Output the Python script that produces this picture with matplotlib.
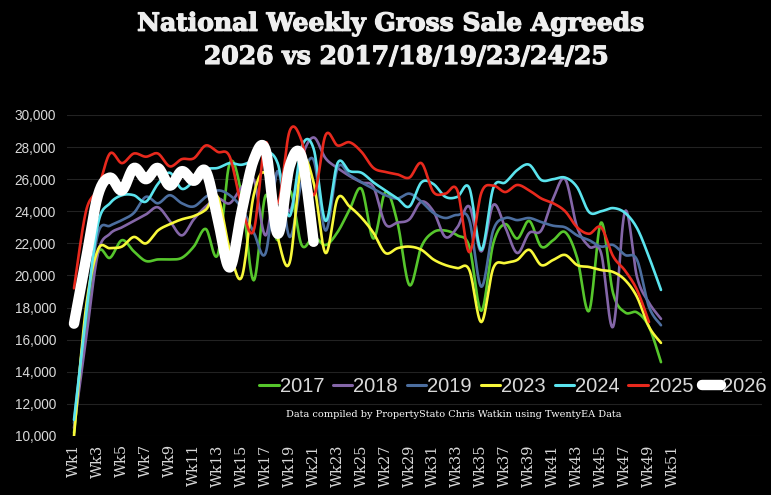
import numpy as np
import matplotlib
matplotlib.use("Agg")
import matplotlib.pyplot as plt
import matplotlib.patheffects as pe
from matplotlib.ticker import FuncFormatter

# weekly gross sale agreeds
weeks_2017 = list(range(1, 51))
sales_2017 = [10200, 17000, 21400, 21100, 22200, 21500, 20900, 21000, 21000, 21100,
              21800, 22900, 21300, 27000, 25000, 19700, 25000, 22200, 25300, 21900,
              22400, 21900, 22700, 24100, 25400, 22300, 25200, 23300, 19400, 21800,
              22700, 22800, 22500, 21800, 17800, 22000, 23200, 22300, 23400, 21800,
              22200, 22700, 21100, 17800, 23300, 18900, 17700, 17700, 16800, 14600]
sales_2018 = [10500, 16000, 21400, 22600, 23000, 23400, 23800, 24250, 23400, 22500,
              23500, 24300, 24800, 24500, 25500, 26000, 22500, 26500, 24000, 27300,
              28600, 27300, 26700, 26200, 25800, 25500, 23200, 23300, 23500, 24600,
              24000, 22400, 23000, 24300, 21500, 24400, 23000, 21400, 22650, 22800,
              24800, 26000, 23000, 21800, 21400, 16800, 24000, 19900, 18300, 17300]
sales_2019 = [10800, 17500, 22600, 23100, 23450, 23900, 24900, 24500, 25000, 24500,
              24300, 24900, 25300, 25000, 24200, 22700, 21400, 26500, 22400, 25800,
              27200, 22800, 26700, 26260, 25800, 25400, 25000, 24800, 25100, 24600,
              23900, 23580, 23770, 23450, 19300, 22830, 23580, 23450, 23580, 23330,
              23100, 23000, 22500, 22200, 21800, 21900, 21280, 20970, 18040, 16900]
sales_2023 = [10000, 18000, 21600, 21700, 21800, 22400, 22000, 22800, 23200, 23500,
              23700, 24100, 24900, 21600, 19900, 25000, 26300, 22400, 20800, 27000,
              25800, 21400, 24800, 24300, 23600, 22650, 21400, 21700, 21800, 21600,
              21000, 20650, 20460, 20340, 17100, 20460, 20780, 20970, 21600, 20650,
              20970, 21280, 20650, 20530, 20340, 20220, 19720, 18660, 16800, 15800]
sales_2024 = [11000, 17500, 23200, 24500, 25000, 25000, 24600, 25700, 26400, 25400,
              25900, 26600, 26700, 27000, 26900, 27200, 27700, 27000, 23700, 28000,
              27900, 23400, 27000, 26500, 26400, 25800, 25300, 24800, 24300, 25800,
              25700, 24900, 24900, 25450, 21600, 25450, 25800, 26570, 26900, 25950,
              26000, 26100, 25500, 23950, 24000, 24200, 23900, 22950, 21150, 19100]
weeks_2025 = list(range(1, 50))
sales_2025 = [19200, 24000, 25400, 27600, 27000, 27600, 27400, 27600, 26800, 27250,
              27300, 28100, 27700, 27400, 24300, 22800, 28300, 24500, 29000, 28400,
              25000, 28750, 28100, 28300, 27700, 26700, 26450, 26300, 26100, 27000,
              25200, 25100, 25300, 21450, 25140, 25600, 25200, 25640, 25300, 24800,
              24500, 24000, 23000, 22600, 23000, 21200, 20300, 19100, 17100]
weeks_2026 = list(range(1, 22))
sales_2026 = [17000, 21000, 25000, 26100, 25300, 26700, 26000, 26700, 25600, 26500,
              25900, 26500, 23500, 20500, 24000, 27200, 27800, 22600, 26800, 27400,
              22100]

years = ["2017", "2018", "2019", "2023", "2024", "2025", "2026"]
colors = ["#56c62c", "#8466a8", "#4c6e9f", "#f8f83a", "#5be4ee", "#e8291d", "#ffffff"]

tick_weeks = list(range(1, 52, 2))
tick_labels = ["Wk%d" % w for w in tick_weeks]


def smooth(x, y, n=16):
    # excel-style smoothed line: cubic bezier through each pair of points
    x = np.asarray(x, float)
    y = np.asarray(y, float)
    px = np.concatenate([[x[0]], x, [x[-1]]])
    py = np.concatenate([[y[0]], y, [y[-1]]])
    t = np.linspace(0, 1, n)[:-1]
    xs, ys = [], []
    for i in range(1, len(px) - 2):
        x1, y1 = px[i], py[i]
        x2, y2 = px[i + 1], py[i + 1]
        c1x = x1 + (x2 - px[i - 1]) / 6
        c1y = y1 + (y2 - py[i - 1]) / 6
        c2x = x2 - (px[i + 2] - x1) / 6
        c2y = y2 - (py[i + 2] - y1) / 6
        a = (1 - t) ** 3
        b = 3 * (1 - t) ** 2 * t
        c = 3 * (1 - t) * t ** 2
        d = t ** 3
        xs.append(a * x1 + b * c1x + c * c2x + d * x2)
        ys.append(a * y1 + b * c1y + c * c2y + d * y2)
    xs.append([x[-1]])
    ys.append([y[-1]])
    return np.concatenate(xs), np.concatenate(ys)


fig = plt.figure(figsize=(7.71, 4.95), dpi=100, facecolor="black")
ax = fig.add_axes([0.0869, 0.1192, 0.9014, 0.6485], facecolor="black")

series = [(weeks_2017, sales_2017), (weeks_2017, sales_2018), (weeks_2017, sales_2019),
          (weeks_2017, sales_2023), (weeks_2017, sales_2024), (weeks_2025, sales_2025),
          (weeks_2026, sales_2026)]
for (wx, wy), yr, col in zip(series, years, colors):
    sx, sy = smooth(wx, wy)
    lw = 7.5 if yr == "2026" else 1.9
    ax.plot(sx, sy, color=col, lw=lw, label=yr, solid_capstyle="round",
            solid_joinstyle="round")

ax.set_xlim(0.416, 58.43)
ax.set_ylim(10000, 30000)
ax.set_yticks(range(10000, 30001, 2000))
ax.yaxis.set_major_formatter(FuncFormatter(lambda v, p: "{:,.0f}".format(v)))
ax.set_xticks(tick_weeks)
ax.set_xticklabels(tick_labels, rotation=90, family="DejaVu Serif", fontsize=10.5,
                   color="#d9d9d9")
for lab in ax.get_yticklabels():
    lab.set_family("Liberation Sans")
    lab.set_fontsize(9.8)
    lab.set_color("#d9d9d9")
ax.tick_params(length=0, pad=6)
ax.tick_params(axis="y", pad=8)
ax.grid(axis="y", color="#222222", lw=0.8)
ax.set_axisbelow(True)
for s in ax.spines.values():
    s.set_visible(False)

leg = ax.legend(loc="center", bbox_to_anchor=(0.642, 0.153), ncol=7, frameon=False,
                prop={"family": "Liberation Sans", "size": 14.5}, handlelength=0.95,
                handletextpad=0.05, columnspacing=0.45, borderpad=0)
for txt in leg.get_texts():
    txt.set_color("#d9d9d9")
for h in leg.get_lines():
    if h.get_linewidth() < 3:
        h.set_linewidth(2.2)

fig.text(0.589, 0.162, "Data compiled by PropertyStato Chris Watkin using TwentyEA Data",
         ha="center", va="center", color="white", family="DejaVu Serif", fontsize=7.0)

bold = [pe.withStroke(linewidth=0.9, foreground="#eeeeee")]
fig.text(0.507, 0.952, "National Weekly Gross Sale Agreeds", ha="center", va="center",
         color="#eeeeee", family="DejaVu Serif", weight="bold", fontsize=18,
         path_effects=bold)
fig.text(0.527, 0.885, "2026 vs 2017/18/19/23/24/25", ha="center", va="center",
         color="#eeeeee", family="DejaVu Serif", weight="bold", fontsize=18,
         path_effects=bold)

plt.savefig("out.png", dpi=100, facecolor="black")
